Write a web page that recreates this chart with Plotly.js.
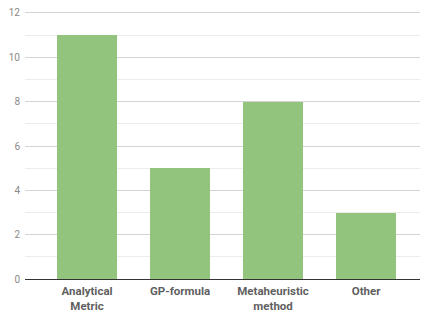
<!DOCTYPE html>
<html><head><meta charset="utf-8">
<script src="https://cdn.plot.ly/plotly-3.0.1.min.js"></script>
<style>html,body{margin:0;padding:0;background:#fff}#chart{width:422px;height:312px}</style>
</head><body><div id="chart"></div>
<script>
const categories = ["Analytical<br>Metric", "GP-formula", "Metaheuristic<br>method", "Other"];
const counts = [11, 5, 8, 3];
const yTicks = [0, 2, 4, 6, 8, 10, 12];

Plotly.newPlot('chart', [{
  type: 'bar',
  x: [0, 1, 2, 3],
  y: counts,
  width: 0.645,
  marker: {color: '#93c47d'},
  hoverinfo: 'none'
}], {
  width: 422, height: 312,
  margin: {l: 25, r: 2, t: 9, b: 33},
  paper_bgcolor: '#fff', plot_bgcolor: '#fff',
  showlegend: false,
  bargap: 0,
  xaxis: {
    range: [-0.667, 3.58],
    tickmode: 'array', tickvals: [0, 1, 2, 3], ticktext: categories,
    showgrid: false, zeroline: false,
    showline: true, linecolor: '#333333', linewidth: 1,
    ticks: '',
    ticklabelstandoff: 1,
    tickfont: {family: 'Roboto', size: 11.5, color: '#5f5f5f', weight: 'bold'},
    fixedrange: true
  },
  yaxis: {
    range: [0, 12.18],
    tickmode: 'array', tickvals: yTicks,
    showgrid: true, gridcolor: '#d4d4d4', gridwidth: 1,
    minor: {dtick: 1, tick0: 0, showgrid: true, gridcolor: '#ececec', gridwidth: 1},
    zeroline: false,
    ticks: '',
    ticklabelstandoff: 4,
    tickfont: {family: 'Roboto', size: 10, color: '#8a8a8a'},
    fixedrange: true
  }
}, {displayModeBar: false, staticPlot: true});
</script></body></html>
